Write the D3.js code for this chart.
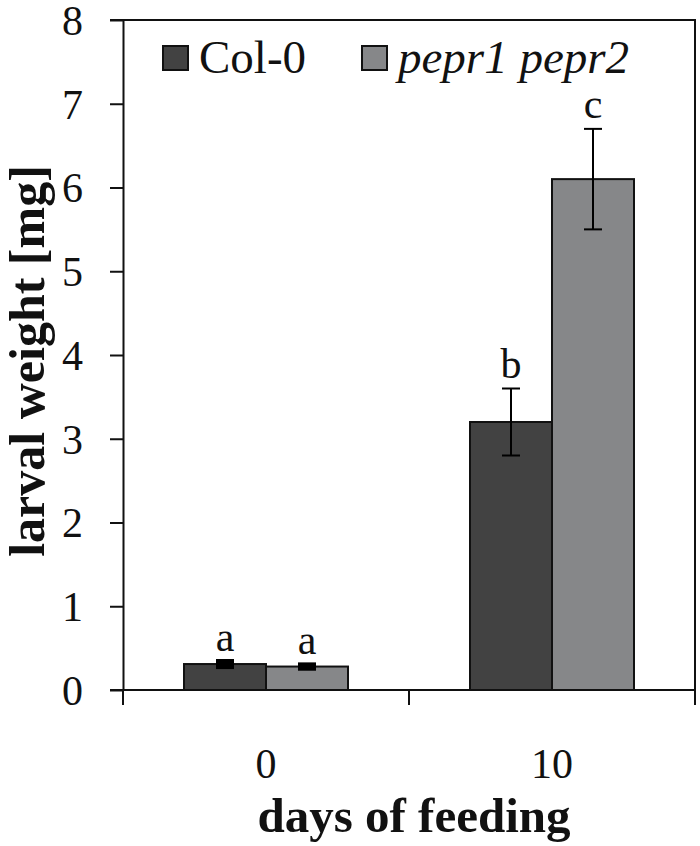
<!DOCTYPE html>
<html>
<head>
<meta charset="utf-8">
<script src="https://cdn.jsdelivr.net/npm/d3@7"></script>
<style>
  body { margin: 0; background: #fff; }
  text { font-family: "Liberation Serif", "Times New Roman", serif; fill: #111; }
</style>
</head>
<body>
<div id="chart"></div>
<script>
  // data
  var days = ['0', '10'];
  var series = ['Col-0', 'pepr1 pepr2'];
  var colCol0 = [0.31, 3.2];
  var colPepr = [0.28, 6.1];
  var errCol0 = [0.03, 0.4];
  var errPepr = [0.02, 0.6];
  var letters = [['a', 'b'], ['a', 'c']];
  var yTicks = [0, 1, 2, 3, 4, 5, 6, 7, 8];
  var fills = ['#424242', '#868789'];

  (function() {
    var width = 700, height = 846;
    var mLeft = 123, mRight = 695, mTop = 20, mBottom = 690;

    var svg = d3.select('#chart').append('svg')
      .attr('width', width).attr('height', height);

    var y = d3.scaleLinear().domain([0, 8]).range([mBottom, mTop]);
    var x = d3.scaleBand().domain(days).range([mLeft, mRight]).padding(0);
    var x1 = d3.scaleBand().domain(series).range([-82, 82]);

    var values = [colCol0, colPepr];
    var errs = [errCol0, errPepr];
    var rows = [];
    series.forEach(function(s, si) {
      days.forEach(function(d, di) {
        rows.push({ day: d, series: s, si: si, value: values[si][di], err: errs[si][di], letter: letters[si][di] });
      });
    });

    // frame: top and right border
    svg.append('path')
      .attr('d', 'M' + (mLeft - 13) + ',' + mTop + 'H' + mRight + 'V' + (mBottom + 15))
      .attr('fill', 'none').attr('stroke', '#111').attr('stroke-width', 2);

    // y axis
    var yAxis = svg.append('g')
      .attr('transform', 'translate(' + mLeft + ',0)')
      .call(d3.axisLeft(y).tickValues(yTicks).tickSize(13).tickSizeOuter(0));
    yAxis.select('.domain').attr('stroke', '#111').attr('stroke-width', 2);
    yAxis.selectAll('.tick line').attr('stroke', '#111').attr('stroke-width', 2);
    yAxis.selectAll('.tick text')
      .attr('x', -40).attr('dy', '0.34em').attr('fill', '#111')
      .style('font-size', '42px').style('font-family', '"Liberation Serif", serif');

    // x axis
    var xAxis = svg.append('g')
      .attr('transform', 'translate(0,' + mBottom + ')')
      .call(d3.axisBottom(x).tickSize(0).tickSizeOuter(0));
    xAxis.select('.domain').remove();
    xAxis.selectAll('.tick text')
      .attr('y', 58).attr('fill', '#111')
      .style('font-size', '42px').style('font-family', '"Liberation Serif", serif');
    svg.append('line')
      .attr('x1', mLeft - 13).attr('x2', mRight)
      .attr('y1', mBottom).attr('y2', mBottom)
      .attr('stroke', '#111').attr('stroke-width', 2);
    var bounds = days.map(function(d) { return x(d); }).concat([x.range()[1]]);
    svg.selectAll('.xtick').data(bounds).enter().append('line')
      .attr('class', 'xtick')
      .attr('x1', function(d) { return d; }).attr('x2', function(d) { return d; })
      .attr('y1', mBottom).attr('y2', mBottom + 15)
      .attr('stroke', '#111').attr('stroke-width', 2);

    var cx = function(r) { return x(r.day) + x.bandwidth() / 2 + x1(r.series); };

    // bars
    svg.selectAll('.bar').data(rows).enter().append('rect')
      .attr('class', 'bar')
      .attr('x', cx)
      .attr('width', x1.bandwidth())
      .attr('y', function(r) { return y(r.value); })
      .attr('height', function(r) { return y(0) - y(r.value); })
      .attr('fill', function(r) { return fills[r.si]; })
      .attr('stroke', '#111').attr('stroke-width', 2);

    // error bars
    var mid = function(r) { return cx(r) + x1.bandwidth() / 2; };
    var eb = svg.selectAll('.err').data(rows).enter().append('g').attr('class', 'err')
      .attr('stroke', '#000').attr('stroke-width', 2);
    eb.append('line')
      .attr('x1', mid).attr('x2', mid)
      .attr('y1', function(r) { return y(r.value + r.err); })
      .attr('y2', function(r) { return y(r.value - r.err); });
    [1, -1].forEach(function(sgn) {
      eb.append('line')
        .attr('x1', function(r) { return mid(r) - 9; })
        .attr('x2', function(r) { return mid(r) + 9; })
        .attr('y1', function(r) { return y(r.value + sgn * r.err); })
        .attr('y2', function(r) { return y(r.value + sgn * r.err); })
        .attr('stroke-width', function(r) { return r.err < 0.1 ? 5 : 2; });
    });

    // significance letters
    svg.selectAll('.letter').data(rows).enter().append('text')
      .attr('class', 'letter')
      .attr('x', mid)
      .attr('y', function(r) { return y(r.value + r.err) - 11; })
      .attr('text-anchor', 'middle')
      .style('font-size', '42px')
      .text(function(r) { return r.letter; });

    // legend
    var legX = [163, 362];
    var leg = svg.selectAll('.leg').data(series).enter().append('g')
      .attr('class', 'leg')
      .attr('transform', function(d, i) { return 'translate(' + legX[i] + ',46)'; });
    leg.append('rect')
      .attr('width', 25).attr('height', 24)
      .attr('fill', function(d, i) { return fills[i]; })
      .attr('stroke', '#111').attr('stroke-width', 2);
    leg.append('text')
      .attr('x', 36).attr('y', 27)
      .style('font-size', '47px')
      .style('font-style', function(d, i) { return i === 1 ? 'italic' : 'normal'; })
      .text(function(d) { return d; });

    // axis titles
    svg.append('text')
      .attr('transform', 'translate(44,361) rotate(-90)')
      .attr('text-anchor', 'middle')
      .style('font-size', '50px').style('font-weight', 'bold')
      .text('larval weight [mg]');
    svg.append('text')
      .attr('x', 414).attr('y', 832)
      .attr('text-anchor', 'middle')
      .style('font-size', '49px').style('font-weight', 'bold')
      .text('days of feeding');
  })();
</script>
</body>
</html>
